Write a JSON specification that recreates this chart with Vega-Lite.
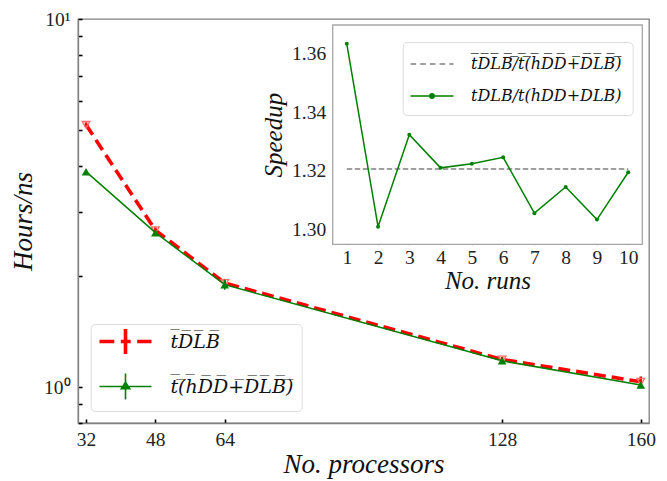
{
  "$schema": "https://vega.github.io/schema/vega-lite/v6.json",
  "width": 571,
  "height": 404,
  "autosize": {"type": "none"},
  "padding": {"left": 78, "top": 19, "right": 18, "bottom": 58},
  "background": "white",
  "config": {
    "view": {"stroke": "#808080", "strokeWidth": 1.3},
    "font": "Liberation Serif",
    "axis": {
      "grid": false,
      "domainColor": "#808080",
      "domainWidth": 1.3,
      "tickColor": "black",
      "tickWidth": 1.6,
      "tickSize": -4,
      "labelFont": "Liberation Serif",
      "labelFontSize": 19.5,
      "labelColor": "#222222",
      "titleFont": "Liberation Serif",
      "titleFontStyle": "italic",
      "titleFontWeight": "normal",
      "titleFontSize": 27,
      "titleColor": "#111111"
    },
    "legend": {
      "labelFont": "DejaVu Serif",
      "labelFontStyle": "italic",
      "labelColor": "#111111"
    }
  },
  "datasets": {
    "main": [
      {"p": 32, "series": "DLB", "t": 5.16, "lo": 5.08, "hi": 5.24},
      {"p": 48, "series": "DLB", "t": 2.67, "lo": 2.62, "hi": 2.72},
      {"p": 64, "series": "DLB", "t": 1.92, "lo": 1.88, "hi": 1.97},
      {"p": 128, "series": "DLB", "t": 1.19, "lo": 1.17, "hi": 1.21},
      {"p": 160, "series": "DLB", "t": 1.035, "lo": 1.0, "hi": 1.07},
      {"p": 32, "series": "hDD", "t": 3.85, "lo": 3.81, "hi": 3.89},
      {"p": 48, "series": "hDD", "t": 2.63, "lo": 2.6, "hi": 2.66},
      {"p": 64, "series": "hDD", "t": 1.9, "lo": 1.84, "hi": 1.96},
      {"p": 128, "series": "hDD", "t": 1.18, "lo": 1.165, "hi": 1.195},
      {"p": 160, "series": "hDD", "t": 1.014, "lo": 1.0, "hi": 1.028}
    ],
    "runs": [
      {"run": 1, "kind": "run", "v": 1.3632},
      {"run": 2, "kind": "run", "v": 1.301},
      {"run": 3, "kind": "run", "v": 1.3323},
      {"run": 4, "kind": "run", "v": 1.321},
      {"run": 5, "kind": "run", "v": 1.3224},
      {"run": 6, "kind": "run", "v": 1.3246},
      {"run": 7, "kind": "run", "v": 1.3056},
      {"run": 8, "kind": "run", "v": 1.3145},
      {"run": 9, "kind": "run", "v": 1.3034},
      {"run": 10, "kind": "run", "v": 1.3195}
    ],
    "mean": [
      {"run": 1, "kind": "mean", "v": 1.3206},
      {"run": 10, "kind": "mean", "v": 1.3206}
    ]
  },
  "layer": [
    {
      "data": {"name": "main"},
      "encoding": {
        "x": {
          "field": "p", "type": "quantitative",
          "scale": {"domain": [30.15, 161.9], "nice": false, "zero": false},
          "axis": {"values": [32, 48, 64, 128, 160], "format": "d", "title": "No. processors", "labelPadding": 11, "titlePadding": 3}
        },
        "y": {
          "field": "t", "type": "quantitative",
          "scale": {"type": "log", "domain": [0.8, 10], "nice": false},
          "axis": {
            "values": [0.8, 0.9, 1, 2, 3, 4, 5, 6, 7, 8, 9, 10],
            "labelExpr": "datum.value == 1 ? '10⁰' : (datum.value == 10 ? '10¹' : '')",
            "title": "Hours/ns", "labelPadding": 12, "titlePadding": 6
          }
        }
      },
      "layer": [
        {
          "transform": [{"filter": "datum.series == 'DLB'"}],
          "mark": {"type": "line", "strokeDash": [12, 6], "strokeWidth": 3.6},
          "encoding": {
            "color": {
              "field": "series", "type": "nominal",
              "scale": {"domain": ["DLB", "hDD"], "range": ["#ff0000", "#008000"]},
              "legend": {
                "orient": "none", "legendX": 12.7, "legendY": 305,
                "title": null,
                "labelExpr": "datum.value == 'DLB' ? 't̅D̅L̅B̅' : 't̅(̅h̅D̅D̅+̅D̅L̅B̅)̅'",
                "labelFontSize": 19,
                "labelOffset": 35.4,
                "labelLimit": 300,
                "symbolSize": 400,
                "symbolOffset": 17.3,
                "symbolType": "M-1,0H1",
                "symbolStrokeWidth": 1.5,
                "rowPadding": 8,
                "padding": 8,
                "fillColor": "white",
                "strokeColor": "#dddddd",
                "cornerRadius": 4,
                "encode": {
                  "symbols": {
                    "update": {
                      "shape": {"signal": "datum.value == 'DLB' ? 'M-2.6,0H-1.12M-0.47,0H0.52M1.17,0H2.6M0,-1.25V1.25' : 'M-2.6,0H2.6M0,-1.3V1.3M-0.42,0.22L0,-0.42L0.42,0.22Z'"},
                      "strokeWidth": {"signal": "datum.value == 'DLB' ? 3.6 : 1.6"},
                      "fill": {"signal": "datum.value == 'DLB' ? 'transparent' : '#008000'"},
                      "fillOpacity": {"value": 1},
                      "strokeDash": {"value": []}
                    }
                  }
                }
              }
            }
          }
        },
        {
          "transform": [{"filter": "datum.series == 'DLB'"}],
          "mark": {"type": "rule", "color": "#ff0000", "strokeWidth": 2.6},
          "encoding": {
            "y": {"field": "lo", "type": "quantitative", "title": "Hours/ns"},
            "y2": {"field": "hi"}
          }
        },
        {
          "transform": [{"filter": "datum.series == 'DLB'"}],
          "mark": {"type": "point", "shape": "triangle-down", "filled": false, "color": "#ff6a6a", "strokeWidth": 1.3, "size": 60, "opacity": 1}
        },
        {
          "transform": [{"filter": "datum.series == 'hDD'"}],
          "mark": {"type": "line", "strokeWidth": 1.5, "color": "#008000"}
        },
        {
          "transform": [{"filter": "datum.series == 'hDD'"}],
          "mark": {"type": "rule", "color": "#008000", "strokeWidth": 1.5},
          "encoding": {
            "y": {"field": "lo", "type": "quantitative", "title": "Hours/ns"},
            "y2": {"field": "hi"}
          }
        },
        {
          "transform": [{"filter": "datum.series == 'hDD'"}],
          "mark": {"type": "point", "shape": "triangle-up", "filled": true, "color": "#008000", "size": 75, "opacity": 1}
        }
      ]
    },
    {
      "layer": [
        {
          "data": {"values": [{}]},
          "mark": {"type": "rect", "fill": "white", "stroke": "#a6a6a6", "strokeWidth": 1.3},
          "encoding": {
            "x": {"datum": 0.55, "type": "quantitative"},
            "x2": {"datum": 10.45},
            "y": {"datum": 1.295, "type": "quantitative"},
            "y2": {"datum": 1.3696}
          }
        },
        {
          "data": {"name": "mean"},
          "mark": {"type": "line", "strokeDash": [5.5, 2.5], "strokeWidth": 1.5},
          "encoding": {
            "x": {
              "field": "run", "type": "quantitative",
              "scale": {"domain": [0.55, 10.45], "range": [254.7, 564.3], "nice": false, "zero": false},
              "axis": {"orient": "bottom", "offset": -178.4, "values": [1, 2, 3, 4, 5, 6, 7, 8, 9, 10], "format": "d", "domain": false, "title": "No. runs", "titleFontSize": 25, "labelPadding": 8, "titlePadding": 1}
            },
            "y": {
              "field": "v", "type": "quantitative",
              "scale": {"domain": [1.295, 1.3696], "range": [225.3, 6], "nice": false, "zero": false},
              "axis": {"orient": "left", "offset": -254.7, "values": [1.3, 1.32, 1.34, 1.36], "format": ".2f", "domain": false, "title": "Speedup", "titleFontSize": 25, "labelPadding": 11, "titlePadding": 5}
            },
            "color": {
              "field": "kind", "type": "nominal",
              "scale": {"domain": ["mean", "run"], "range": ["#808080", "#008000"]},
              "legend": {
                "orient": "none", "legendX": 324.7, "legendY": 23,
                "title": null,
                "labelExpr": "datum.value == 'mean' ? 't̅D̅L̅B̅/̅t̅(̅h̅D̅D̅+̅D̅L̅B̅)̅' : 'tDLB/t(hDD+DLB)'",
                "labelFontSize": 16,
                "labelOffset": 28,
                "labelLimit": 300,
                "symbolSize": 400,
                "symbolOffset": 7.3,
                "symbolType": "M-1,0H1",
                "rowPadding": 13,
                "padding": 11,
                "fillColor": "white",
                "strokeColor": "#dddddd",
                "cornerRadius": 4,
                "encode": {
                  "symbols": {
                    "update": {
                      "shape": {"signal": "datum.value == 'mean' ? 'M-2.15,0H-1.59M-1.18,0H-0.62M-0.21,0H0.35M0.76,0H1.32M1.73,0H2.15' : 'M-2.15,0H2.15M-0.22,0A0.22,0.22 0 1,0 0.22,0A0.22,0.22 0 1,0 -0.22,0Z'"},
                      "strokeWidth": {"value": 1.5},
                      "fill": {"signal": "datum.value == 'mean' ? 'transparent' : '#008000'"},
                      "fillOpacity": {"value": 1},
                      "strokeDash": {"value": []}
                    }
                  }
                }
              }
            }
          }
        },
        {
          "data": {"name": "runs"},
          "mark": {"type": "line", "strokeWidth": 1.5},
          "encoding": {
            "x": {"field": "run", "type": "quantitative"},
            "y": {"field": "v", "type": "quantitative"},
            "color": {"field": "kind", "type": "nominal"}
          }
        },
        {
          "data": {"name": "runs"},
          "mark": {"type": "circle", "color": "#008000", "size": 16, "opacity": 1},
          "encoding": {
            "x": {"field": "run", "type": "quantitative"},
            "y": {"field": "v", "type": "quantitative"}
          }
        }
      ]
    }
  ],
  "resolve": {
    "scale": {"x": "independent", "y": "independent", "color": "independent"},
    "axis": {"x": "independent", "y": "independent"},
    "legend": {"color": "independent"}
  }
}
